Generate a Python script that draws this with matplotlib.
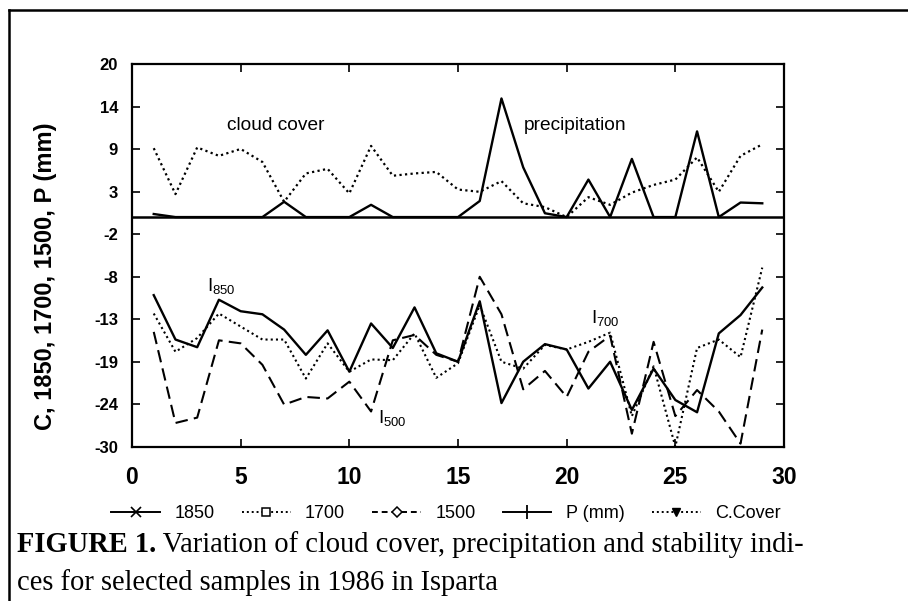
import matplotlib
matplotlib.use('Agg')
import matplotlib.pyplot as plt
import numpy as np
from matplotlib.lines import Line2D

plt.rcParams['font.family'] = ['Liberation Sans', 'DejaVu Sans']
plt.rcParams['mathtext.fontset'] = 'custom'
plt.rcParams['mathtext.rm'] = 'Liberation Sans'
plt.rcParams['mathtext.it'] = 'Liberation Sans:italic'

# ---------------- data ----------------
days = list(range(1, 30))
i1850 = [-10.2, -16.0, -17.0, -10.8, -12.3, -12.7, -14.7, -18.0, -14.8, -20.2,
         -13.9, -17.1, -11.8, -17.8, -18.9, -11.0, -24.3, -18.9, -16.6, -17.3,
         -22.4, -18.9, -25.2, -19.8, -23.9, -25.5, -15.2, -12.8, -9.2]
i1700 = [-12.6, -17.6, -15.8, -12.6, -14.3, -16.0, -16.0, -21.1, -16.5, -20.2,
         -18.6, -18.7, -15.2, -21.0, -19.1, -11.5, -18.9, -19.8, -16.7, -17.3,
         -16.3, -15.1, -26.0, -19.5, -30.0, -17.1, -16.0, -18.3, -6.6]
i1500 = [-15.0, -26.9, -26.2, -16.1, -16.5, -19.3, -24.5, -23.5, -23.7, -21.5,
         -25.4, -16.1, -15.4, -18.0, -18.9, -7.8, -12.7, -22.5, -20.1, -23.5,
         -17.6, -15.5, -28.3, -16.3, -26.0, -22.6, -25.4, -29.6, -14.7]
precip = [0.4, 0, 0, 0, 0, 0, 2.0, 0, 0, 0, 1.6, 0, 0, 0, 0, 2.1, 15.5, 6.5,
          0.5, 0, 4.9, 0, 7.6, 0, 0, 11.2, 0, 1.9, 1.8]
cloud = [9.0, 3.0, 9.1, 8.0, 8.9, 7.2, 2.0, 5.7, 6.3, 3.1, 9.3, 5.4, 5.7, 5.9,
         3.6, 3.3, 4.7, 1.8, 1.3, 0.0, 2.6, 1.6, 3.2, 4.2, 4.9, 7.8, 3.3, 8.0, 9.5]

xticks = [0, 5, 10, 15, 20, 25, 30]
ytick_labels = ['-30', '-24', '-19', '-13', '-8', '-2', '3', '9', '14', '20']
legend_labels = ['1850', '1700', '1500', 'P (mm)', 'C.Cover']

# ---------------- figure ----------------
W, H = 908, 601
fig = plt.figure(figsize=(W / 100, H / 100), dpi=100)
fig.patch.set_facecolor('white')
L, R, T, B = 132, 784, 64, 446.7
ax = fig.add_axes([L / W, 1 - B / H, (R - L) / W, (B - T) / H])

dot = (0, (1, 1.5))
ax.plot(days, precip, color='k', lw=1.7, ls='-')
ax.plot(days, cloud, color='k', lw=1.6, ls=dot)
ax.plot(days, i1850, color='k', lw=1.7, ls='-')
ax.plot(days, i1700, color='k', lw=1.5, ls=dot)
ax.plot(days, i1500, color='k', lw=1.5, ls=(0, (6, 3)))
ax.axhline(0, color='k', lw=1.8)

ax.set_xlim(0, 30)
ax.set_ylim(-30, 20)
ax.set_xticks(xticks)
ax.set_xticklabels([str(v) for v in xticks], fontsize=16.5, fontweight='bold')
ax.set_yticks(np.linspace(-30, 20, len(ytick_labels)))
ax.set_yticklabels(ytick_labels, fontsize=12, fontweight='bold')
ax.tick_params(direction='in', top=True, right=True, length=6, width=1.2)
ax.tick_params(axis='x', pad=14)
ax.tick_params(axis='y', pad=10)
for s in ax.spines.values():
    s.set_linewidth(1.6)

# annotations
ax.text(6.61, 11.9, 'cloud cover', ha='center', va='center', fontsize=13.8)
ax.text(20.4, 11.9, 'precipitation', ha='center', va='center', fontsize=13.8)
ax.text(3.45, -9.0, r'I$_{850}$', ha='left', va='center', fontsize=13.5)
ax.text(11.3, -26.2, r'I$_{500}$', ha='left', va='center', fontsize=13.5)
ax.text(21.1, -13.2, r'I$_{700}$', ha='left', va='center', fontsize=13.5)

fig.text(46 / W, 1 - 276 / H, 'C, 1850, 1700, 1500, P (mm)', rotation=90,
         ha='center', va='center', fontsize=17, fontweight='bold')

# legend
handles = [
    Line2D([], [], color='k', lw=1.4, ls='-', marker='x', ms=7, mew=1.2),
    Line2D([], [], color='k', lw=1.4, ls=dot, marker='s', ms=6, mfc='white', mew=1.1),
    Line2D([], [], color='k', lw=1.4, ls=(0, (3, 2)), marker='D', ms=5, mfc='white', mew=1.1),
    Line2D([], [], color='k', lw=1.4, ls='-', marker='|', ms=10, mew=1.3),
    Line2D([], [], color='k', lw=1.4, ls=dot, marker='v', ms=6),
]
fig.legend(handles, legend_labels, loc='center', bbox_to_anchor=(446 / W, 1 - 514 / H),
           ncol=5, frameon=False, fontsize=13, handlelength=2.7,
           handletextpad=0.8, columnspacing=1.5)

# caption
renderer = fig.canvas.get_renderer()
cap_bold = 'FIGURE 1.'
cap_rest1 = ' Variation of cloud cover, precipitation and stability indi-'
cap_line2 = 'ces for selected samples in 1986 in Isparta'
x0 = 17 / W


def draw_caption(fs):
    t1 = fig.text(x0, 1 - 552 / H, cap_bold, family='Liberation Serif',
                  fontweight='bold', fontsize=fs, va='baseline')
    w1 = t1.get_window_extent(renderer).width
    t2 = fig.text(x0 + w1 / W, 1 - 552 / H, cap_rest1, family='Liberation Serif',
                  fontsize=fs, va='baseline')
    w2 = t2.get_window_extent(renderer).width
    t3 = fig.text(x0, 1 - 590 / H, cap_line2, family='Liberation Serif',
                  fontsize=fs, va='baseline')
    return [t1, t2, t3], w1 + w2


texts, width = draw_caption(17)
for t in texts:
    t.remove()
fs = 17 * 788 / width
draw_caption(fs)

# page border lines
fig.add_artist(Line2D([9 / W, 1], [1 - 10 / H, 1 - 10 / H], transform=fig.transFigure,
                      color='k', lw=1.8))
fig.add_artist(Line2D([9 / W, 9 / W], [0, 1 - 10 / H], transform=fig.transFigure,
                      color='k', lw=1.8))

fig.savefig('out.png', dpi=100)
